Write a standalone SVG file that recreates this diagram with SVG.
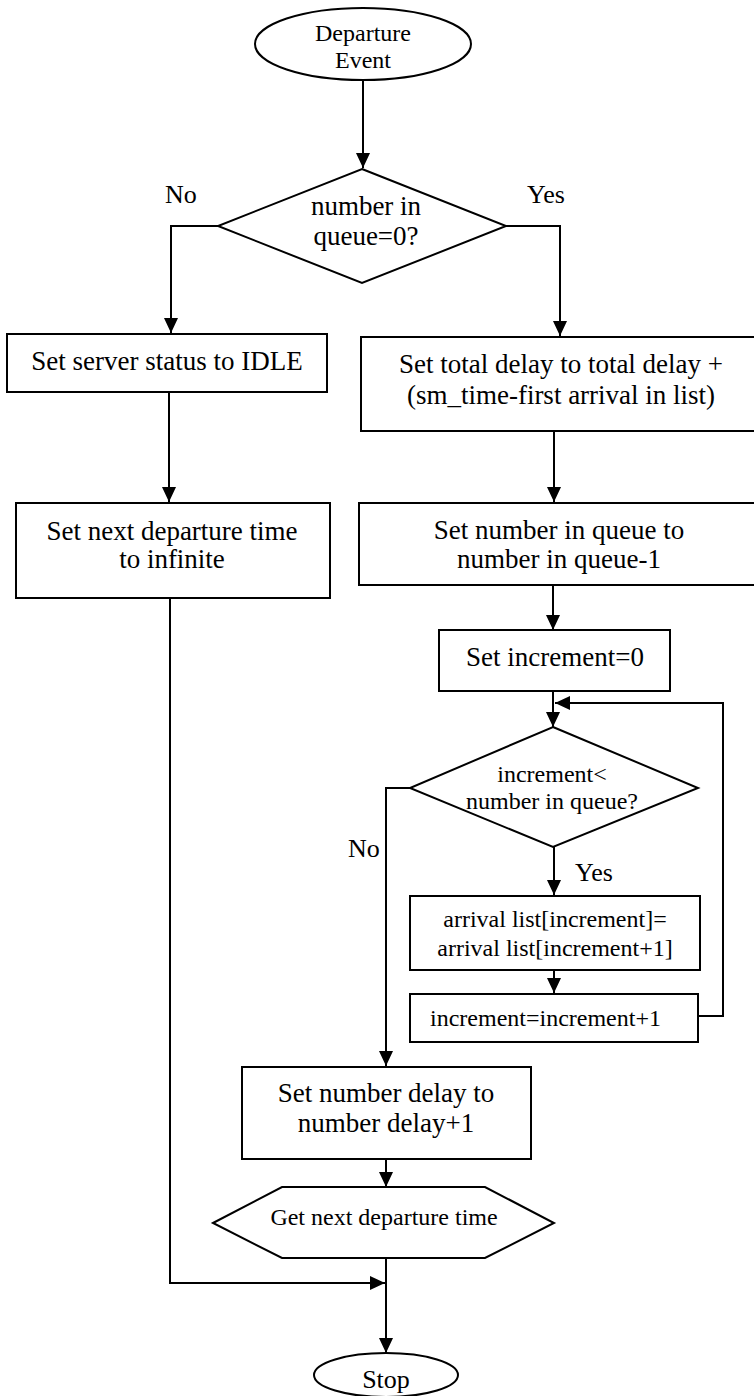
<svg xmlns="http://www.w3.org/2000/svg" width="754" height="1396" viewBox="0 0 754 1396">
<style>
.s{fill:#fff;stroke:#000;stroke-width:2}
.c{fill:none;stroke:#000;stroke-width:2;marker-end:url(#ah)}
.l{fill:none;stroke:#000;stroke-width:2}
text{font-family:"Liberation Serif","Times New Roman",serif;fill:#000}
.m{text-anchor:middle}
.f27{font-size:27px}
.f24{font-size:24px}
.f26{font-size:26px}
</style>
<defs>
<marker id="ah" markerUnits="userSpaceOnUse" markerWidth="16" markerHeight="16" refX="15" refY="7" orient="auto">
<path d="M0,0 L15,7 L0,14 z" fill="#000"/>
</marker>
</defs>
<rect width="754" height="1396" fill="#fff"/>
<g id="connectors">
<path class="c" d="M363,80 V168"/>
<path class="c" d="M218,226 H171 V333"/>
<path class="c" d="M506,226 H560 V336"/>
<path class="c" d="M169,392 V502"/>
<path class="c" d="M554,431 V502"/>
<path class="c" d="M553,585 V630"/>
<path class="c" d="M553,691 V727"/>
<path class="c" d="M698,1016 H723 V703 H555"/>
<path class="c" d="M410,788 H386 V1066"/>
<path class="c" d="M554,847 V895"/>
<path class="c" d="M554,970 V993"/>
<path class="c" d="M386,1159 V1187"/>
<path class="c" d="M386,1258 V1353"/>
<path class="c" d="M170,598 V1283 H385"/>
<text class="f26" x="165" y="203">No</text>
<text class="f26" x="527" y="203">Yes</text>
<text class="f26" x="348" y="857">No</text>
<text class="f26" x="575" y="881">Yes</text>
</g>
<g id="start">
<ellipse class="s" cx="363" cy="44" rx="108" ry="36"/>
<text class="m f24" x="363" y="41">Departure</text>
<text class="m f24" x="363" y="68">Event</text>
</g>
<g id="decision1">
<polygon class="s" points="362,169 506,226 362,283 218,226"/>
<text class="m f27" x="366" y="215">number in</text>
<text class="m f27" x="366" y="245">queue=0?</text>
</g>
<g id="idle">
<rect class="s" x="7" y="334" width="320" height="58"/>
<text class="m f27" x="167" y="370">Set server status to IDLE</text>
</g>
<g id="totaldelay">
<rect class="s" x="361" y="337" width="400" height="94"/>
<text class="m f27" x="561" y="373">Set total delay to total delay +</text>
<text class="m f27" x="561" y="404">(sm_time-first arrival in list)</text>
</g>
<g id="nextdep">
<rect class="s" x="16" y="503" width="314" height="95"/>
<text class="m f27" x="172" y="540">Set next departure time</text>
<text class="m f27" x="172" y="568">to infinite</text>
</g>
<g id="numqueue">
<rect class="s" x="359" y="503" width="400" height="82"/>
<text class="m f27" x="559" y="539">Set number in queue to</text>
<text class="m f27" x="559" y="568">number in queue-1</text>
</g>
<g id="incr0">
<rect class="s" x="439" y="630" width="231" height="61"/>
<text class="m f27" x="555" y="666">Set increment=0</text>
</g>
<g id="decision2">
<polygon class="s" points="553,727 698,788 553,847 410,788"/>
<text class="m f24" x="552" y="782">increment&lt;</text>
<text class="m f24" x="552" y="809">number in queue?</text>
</g>
<g id="shift">
<rect class="s" x="410" y="896" width="290" height="74"/>
<text class="m f24" x="555" y="927">arrival list[increment]=</text>
<text class="m f24" x="555" y="956">arrival list[increment+1]</text>
</g>
<g id="incr1">
<rect class="s" x="410" y="994" width="288" height="48"/>
<text class="f24" x="430" y="1026">increment=increment+1</text>
</g>
<g id="numdelay">
<rect class="s" x="242" y="1067" width="289" height="92"/>
<text class="m f27" x="386" y="1102">Set number delay to</text>
<text class="m f27" x="386" y="1132">number delay+1</text>
</g>
<g id="getnext">
<polygon class="s" points="213,1223 282,1187 485,1187 554,1223 485,1258 282,1258"/>
<text class="m f24" x="384" y="1225">Get next departure time</text>
</g>
<g id="stop">
<ellipse class="s" cx="386" cy="1375" rx="72" ry="22"/>
<text class="m f26" x="386" y="1388">Stop</text>
</g>
</svg>
